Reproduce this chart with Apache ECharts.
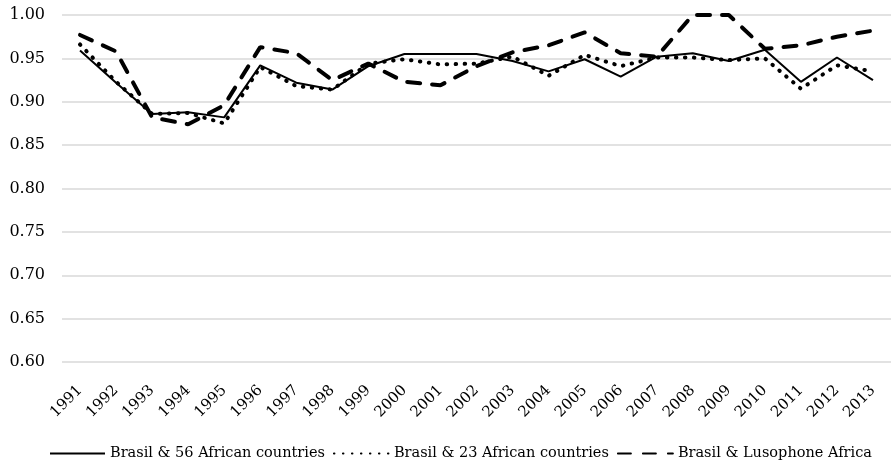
<!DOCTYPE html>
<html><head><meta charset="utf-8">
<script src="https://cdn.jsdelivr.net/npm/echarts@6/dist/echarts.min.js"></script>
<style>html,body{margin:0;padding:0;background:#fff}#c{width:891px;height:466px}</style>
</head><body><div id="c"></div>
<script>
const years = ['1991','1992','1993','1994','1995','1996','1997','1998','1999','2000','2001','2002','2003','2004','2005','2006','2007','2008','2009','2010','2011','2012','2013'];
const s56 = [0.959,0.922,0.886,0.888,0.882,0.942,0.922,0.914,0.941,0.955,0.955,0.955,0.947,0.935,0.949,0.929,0.952,0.956,0.947,0.960,0.923,0.951,0.925];
const s23 = [0.966,0.923,0.886,0.887,0.875,0.940,0.918,0.914,0.944,0.949,0.943,0.944,0.952,0.930,0.954,0.941,0.951,0.951,0.948,0.950,0.915,0.942,0.935];
const sLus = [0.977,0.958,0.882,0.874,0.896,0.963,0.956,0.925,0.944,0.923,0.919,0.941,0.957,0.965,0.980,0.956,0.952,1.000,1.000,0.961,0.965,0.975,0.982];
const names = ['Brasil & 56 African countries','Brasil & 23 African countries','Brasil & Lusophone Africa'];
const font = 'DejaVu Serif';
const chart = echarts.init(document.getElementById('c'));
chart.setOption({
  animation:false,
  textStyle:{fontFamily:font},
  grid:{left:62,right:0,top:15,bottom:104,outerBoundsMode:'none'},
  legend:{bottom:0,left:44,itemWidth:55,itemHeight:14,itemGap:8,
    itemStyle:{opacity:0},
    textStyle:{fontFamily:font,fontSize:14.5,color:'#000'},
    data:names},
  xAxis:{type:'category',data:years,boundaryGap:true,
    axisLine:{show:false},axisTick:{show:false},
    axisLabel:{rotate:45,fontFamily:font,fontSize:15,color:'#000',margin:26,interval:0}},
  yAxis:{type:'value',min:0.6,max:1.0,interval:0.05,
    axisLabel:{formatter:v=>v.toFixed(2),fontFamily:font,fontSize:16,color:'#000',margin:17},
    splitLine:{lineStyle:{color:'#d9d9d9',width:1.5}},
    axisLine:{show:false},axisTick:{show:false}},
  series:[
    {name:names[0],type:'line',data:s56,symbol:'none',itemStyle:{color:'#000'},lineStyle:{color:'#000',width:2}},
    {name:names[1],type:'line',data:s23,symbol:'none',itemStyle:{color:'#000'},lineStyle:{color:'#000',width:4,type:[0.5,8.5],cap:'round'}},
    {name:names[2],type:'line',data:sLus,symbol:'none',itemStyle:{color:'#000'},lineStyle:{color:'#000',width:4,type:[13,12],cap:'round'}}
  ]
});
</script></body></html>
